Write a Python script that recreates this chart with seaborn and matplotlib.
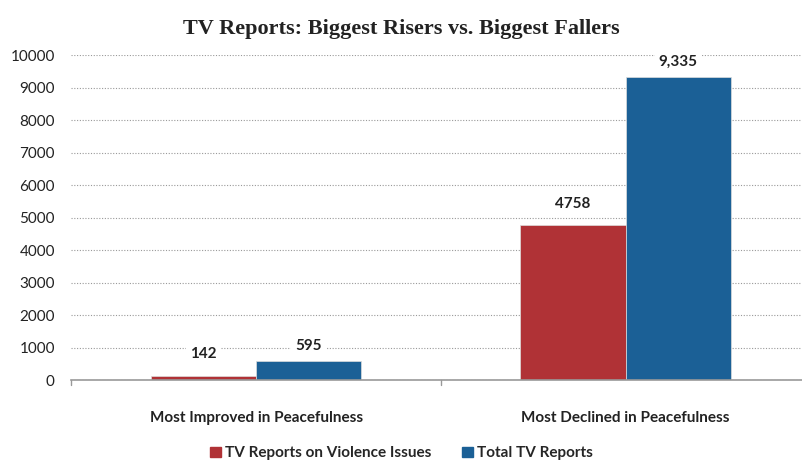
import matplotlib
matplotlib.use("Agg")
import matplotlib.pyplot as plt
import seaborn as sns
import pandas as pd

# Data
categories = ["Most Improved in Peacefulness", "Most Declined in Peacefulness"]
series_names = ["TV Reports on Violence Issues", "Total TV Reports"]
violence_reports = [142, 4758]
total_reports = [595, 9335]
value_labels = [["142", "4758"], ["595", "9,335"]]
colors = ["#B03236", "#1B6096"]

df = pd.DataFrame({
    "category": categories * 2,
    "series": [series_names[0]] * 2 + [series_names[1]] * 2,
    "value": violence_reports + total_reports,
})

sns.set_style("white")
plt.rcParams["font.family"] = ["Lato", "DejaVu Sans"]

fig = plt.figure(figsize=(8.03, 4.67), dpi=100)
ax = fig.add_axes([0.089, 0.186, 0.92, 0.696])

sns.barplot(data=df, x="category", y="value", hue="series", palette=colors,
            width=0.57, saturation=1, ax=ax, legend=False, linewidth=0.5,
            edgecolor="#dddddd")

ax.set_xlim(-0.5, 1.5)
ax.set_ylim(0, 10000)
ax.set_yticks(range(0, 10001, 1000))
ax.tick_params(axis="y", length=0, labelsize=11, colors="#222222", pad=12)
ax.tick_params(axis="x", length=0, labelsize=11, colors="#222222", pad=22)
for lbl in ax.get_xticklabels():
    lbl.set_fontweight("bold")
ax.set_xlabel("")
ax.set_ylabel("")

# dotted gridlines
ax.yaxis.grid(True, linestyle=(0, (1, 1.5)), color="#999999", linewidth=0.8)
ax.set_axisbelow(True)
for s in ["top", "right", "left"]:
    ax.spines[s].set_visible(False)
ax.spines["bottom"].set_color("#999999")
ax.spines["bottom"].set_linewidth(1.2)

# small tick marks at ends and between categories
for xp in [-0.5, 0.5]:
    ax.plot([xp, xp], [0, -150], color="#999999", lw=1, clip_on=False)

# value labels
offsets = [650, 460]
for ci, cont in enumerate(ax.containers):
    for bi, bar in enumerate(cont):
        h = bar.get_height()
        ax.text(bar.get_x() + bar.get_width() / 2, h + offsets[ci], value_labels[ci][bi],
                ha="center", va="center", fontsize=11, fontweight="bold",
                color="#222222",
                bbox=dict(facecolor="white", edgecolor="none", pad=3))

fig.suptitle("TV Reports: Biggest Risers vs. Biggest Fallers", x=0.5, y=0.96,
             fontsize=16, fontweight="bold", family="Liberation Serif",
             color="#222222")

handles = [plt.Rectangle((0, 0), 1, 1, color=c) for c in colors]
fig.legend(handles, series_names, loc="lower center", bbox_to_anchor=(0.5, -0.015),
           ncol=2, frameon=False, handlelength=0.7,
           handleheight=0.7, handletextpad=0.3, columnspacing=2,
           prop={"weight": "bold", "size": 11})

fig.savefig("out.png", dpi=100)
